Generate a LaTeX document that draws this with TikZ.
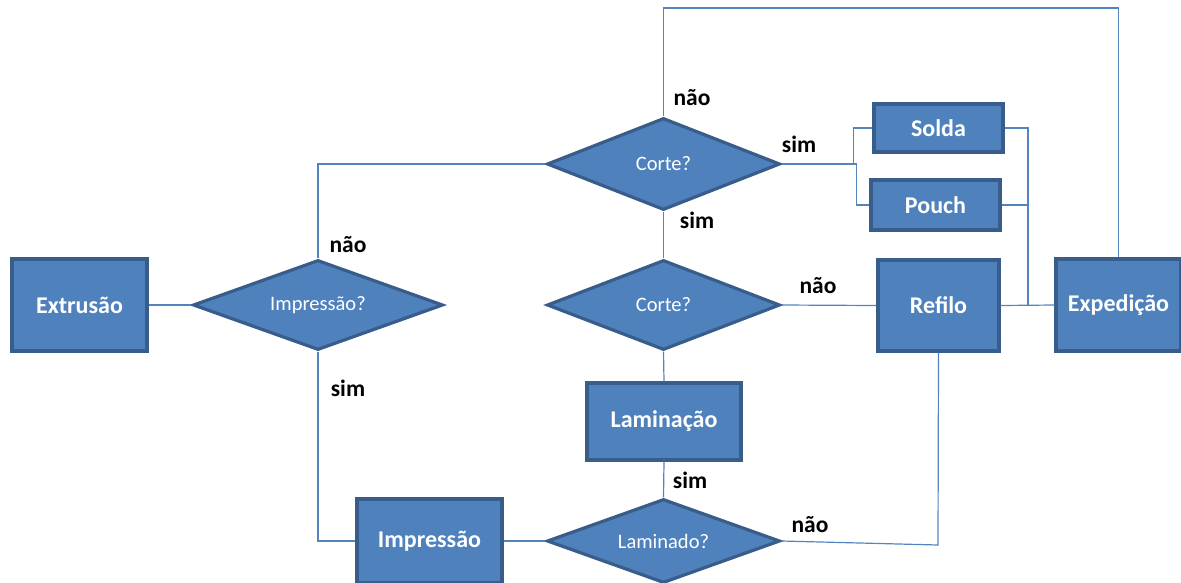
\documentclass[tikz,border=0pt]{standalone}
\usepackage{fontspec}
\setmainfont{Carlito}
\usetikzlibrary{shapes.geometric}
\definecolor{boxfill}{RGB}{79,129,189}
\definecolor{boxline}{RGB}{56,93,138}
\definecolor{wire}{RGB}{84,132,192}
\tikzset{
  procbox/.style={draw=boxline, line width=3.2pt, fill=boxfill, text=white,
    font=\fontsize{24}{28}\selectfont\bfseries, inner sep=0pt},
  decision/.style={diamond, draw=boxline, line width=3.2pt, fill=boxfill, text=white,
    font=\fontsize{20.5}{24}\selectfont, inner sep=0pt, aspect=2.5},
  link/.style={draw=wire, line width=1.2pt},
  answer/.style={font=\fontsize{23.5}{27}\selectfont\bfseries, text=black, inner sep=0pt}
}
\begin{document}
\begin{tikzpicture}[x=1pt, y=-1pt]
\useasboundingbox (0,0) rectangle (1181,582);

% process boxes
\node[procbox, minimum width=135, minimum height=92] (extr) at (79.5,305) {Extrusão};
\node[procbox, minimum width=145, minimum height=84] (impr) at (429.5,541) {Impressão};
\node[procbox, minimum width=154, minimum height=77] (lamin) at (664,421.5) {Laminação};
\node[procbox, minimum width=129, minimum height=48] (solda) at (938.5,128) {Solda};
\node[procbox, minimum width=129, minimum height=50] (pouch) at (935.5,205) {Pouch};
\node[procbox, minimum width=121, minimum height=91] (refilo) at (938.5,305.5) {Refilo};
\node[procbox, minimum width=125, minimum height=92] (exped) at (1118.5,305) {Expedição};

% decisions
\node[decision, minimum width=250, minimum height=90] (qimp) at (318,305) {Impressão?};
\node[decision, minimum width=233, minimum height=92] (qcorteA) at (663.5,164) {Corte?};
\node[decision, minimum width=233, minimum height=90] (qcorteB) at (663.5,305) {Corte?};
\node[decision, minimum width=233, minimum height=84] (qlam) at (663.5,541) {Laminado?};

% helper points
\coordinate (topL) at (663.5,8);
\coordinate (topR) at (1118.5,8);
\coordinate (busR) at (1028,305);
\coordinate (lamTurn) at (938,545);

% connectors
\draw[link] (extr.east) -- (qimp.west);
\draw[link] (qcorteA.west) -| (qimp.north);
\draw[link] (qimp.south) |- (impr.west);
\draw[link] (impr.east) -- (qlam.west);
\draw[link] (qlam.north) -- (lamin.south);
\draw[link] (lamin.north) -- (qcorteB.south);
\draw[link] (qcorteB.north) -- (qcorteA.south);
\draw[link] (qcorteB.east) -- (refilo.west);
\draw[link] (qlam.east) -- (lamTurn) -- (refilo.south);
\draw[link] (qcorteA.east) -- ++(72,0) |- (solda.west);
\draw[link] (qcorteA.east) -- ++(75,0) |- (pouch.west);
\draw[link] (solda.east) -| (busR);
\draw[link] (pouch.east) -- (pouch.east -| busR);
\draw[link] (refilo.east) -- (exped.west);
\draw[link] (qcorteA.north) -- (topL) -- (topR) -- (exped.north);

% branch answers
\node[answer] (a1) at (348,245) {não};
\node[answer] (a2) at (348,388) {sim};
\node[answer] (a3) at (692,98) {não};
\node[answer] (a4) at (799,144) {sim};
\node[answer] (a5) at (697,220) {sim};
\node[answer] (a6) at (818,286) {não};
\node[answer] (a7) at (690,480) {sim};
\node[answer] (a8) at (810,525) {não};
\end{tikzpicture}
\end{document}
